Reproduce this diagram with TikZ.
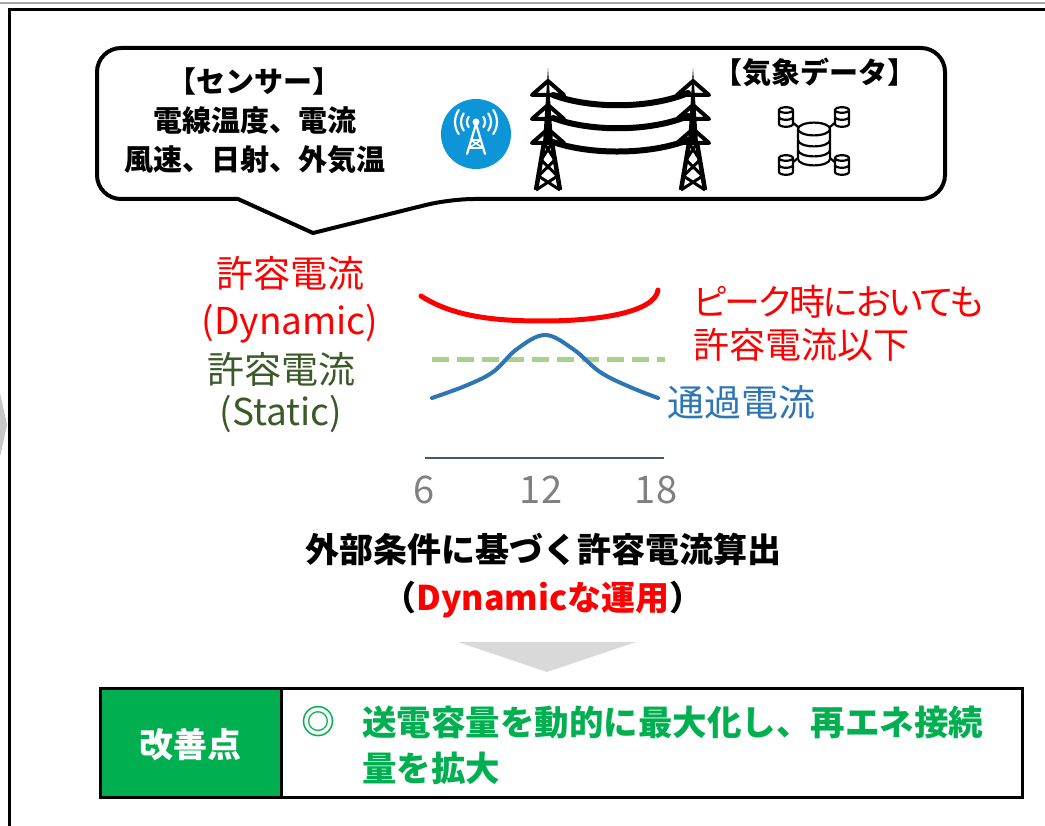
\documentclass[tikz,border=0pt]{standalone}
\usepackage{fontspec}
\setmainfont{Noto Sans CJK JP}
\newfontfamily\kanaprop[CharacterWidth=AlternateProportional]{Noto Sans CJK JP}
\newfontfamily\kanatight[CharacterWidth=AlternateProportional,LetterSpace=-5]{Noto Sans CJK JP}
\definecolor{dynred}{HTML}{FF0000}
\definecolor{staticgreen}{HTML}{3B5A27}
\definecolor{dashgreen}{HTML}{A9D18E}
\definecolor{flowblue}{HTML}{2E75B6}
\definecolor{axisslate}{HTML}{44546A}
\definecolor{tickgray}{HTML}{808080}
\definecolor{antblue}{HTML}{0E95D8}
\definecolor{okgreen}{HTML}{00B050}
\definecolor{arrowgray}{HTML}{D9D9D9}

% one drum of the database icon: centre x, top y, half width, height
\newcommand{\drum}[4]{%
  \draw[fill=white] (#1-#3,#2) -- (#1-#3,#2+#4)
    arc[start angle=180,end angle=0,x radius=#3,y radius=#3*0.4] -- (#1+#3,#2);
  \draw[fill=white] (#1,#2) ellipse[x radius=#3,y radius=#3*0.4];
}

\tikzset{
  jpbold/.style 2 args={font=\bfseries\fontsize{#1}{#2}\selectfont},
  jpplain/.style 2 args={font=\fontsize{#1}{#2}\selectfont},
  wire/.style={line width=6pt,line cap=round},
  pylon/.pic={
    % mast above the lowest arm
    \fill (0,-122) -- (-5,-47) -- (5,-47) -- cycle;
    % three cross arms
    \foreach \lv in {-95,-71,-47}
      \draw[line width=4pt,line join=round] (-16,\lv) -- (16,\lv) -- (0,\lv-14) -- cycle;
    % legs and bracing
    \draw[line width=4.5pt] (-4,-47) -- (-12,0) (4,-47) -- (12,0);
    \draw[line width=3pt] (-4,-47) -- (6.9,-30) -- (-9.6,-14) -- (12,0)
                          (4,-47) -- (-6.9,-30) -- (9.6,-14) -- (-12,0);
  }
}

\begin{document}
\begin{tikzpicture}[x=1pt,y=-1pt]
  \useasboundingbox (0,0) rectangle (1045,826);

  % frame
  \draw[gray!70,line width=1.5pt] (0,3) -- (1045,3);
  \draw[line width=3.5pt] (1045,9.5) -- (9.5,9.5) -- (9.5,826);
  \fill[black!22] (0,393) -- (7,425) -- (0,457) -- cycle;

  % speech bubble
  \draw[line width=4pt,line join=round,fill=white]
    (238,199) [rounded corners=24] -- (97,199) -- (97,48) -- (945,48) -- (945,199) -- (450,199)
    [sharp corners] -- (313,233) -- cycle;

  \node[jpbold={29}{39},align=center,inner sep=0] (sensor) at (255,121)
    {【センサー】\\電線温度、電流\\風速、日射、外気温};
  \node[jpbold={29}{39},inner sep=0] (weather) at (815,72) {【気象データ】};

  % antenna badge
  \fill[antblue] (476,134) circle[radius=35];
  \begin{scope}[white,line width=2.2pt,line cap=round]
    \fill (476,122) circle[radius=3.5];
    \draw (476,124) -- (467,154) (476,124) -- (485,154);
    \draw (471,140) -- (481,140) (469,148) -- (483,148);
    \draw[line width=1.6pt] (471,140) -- (483,148) (481,140) -- (469,148);
    \foreach \r in {9,15,21} {
      \draw (476,122) ++(145:\r) arc[start angle=145,end angle=215,radius=\r];
      \draw (476,122) ++(-35:\r) arc[start angle=-35,end angle=35,radius=\r];
    }
  \end{scope}

  % transmission towers and lines
  \pic at (548,190) {pylon};
  \pic at (693,190) {pylon};
  \draw[wire] (553,95) .. controls (590,109) and (650,109) .. (688,93);
  \draw[wire] (553,118) .. controls (590,132) and (650,132) .. (688,116);
  \draw[wire] (553,142) .. controls (590,155) and (650,155) .. (688,140);

  % database icon
  \begin{scope}[line width=2.2pt]
    \draw (792,122) -- (803,131) (836,122) -- (825,131)
          (792,163) -- (803,154) (836,163) -- (825,154);
    \drum{814}{129}{16}{30}
    \draw (798,140) arc[start angle=180,end angle=0,x radius=16,y radius=6.4];
    \draw (798,150) arc[start angle=180,end angle=0,x radius=16,y radius=6.4];
    \foreach \dx/\dy in {786/110,842/110,786/158,842/158} {
      \drum{\dx}{\dy}{7}{14}
      \draw (\dx-7,\dy+7) arc[start angle=180,end angle=0,x radius=7,y radius=2.8];
    }
  \end{scope}

  % allowable current labels
  \node[jpplain={37}{47},text=dynred,align=center,inner sep=0] (dyn) at (290,300)
    {許容電流\\(Dynamic)};
  \node[jpplain={37}{42},text=staticgreen,align=center,inner sep=0] (stat) at (281,393)
    {許容電流\\(Static)};
  \node[text=dynred,align=left,anchor=west,inner sep=0,
        font=\kanaprop\fontsize{36}{43}\selectfont] (peak) at (693,323)
    {{\kanatight ピーク時においても}\\許容電流以下};
  \node[jpplain={37}{43},text=flowblue,anchor=west,inner sep=0] (flow) at (667,402) {通過電流};

  % daily curves
  \draw[dynred,line width=5pt,line cap=round]
    (421,296) .. controls (455,318) and (500,321) .. (543,321)
    .. controls (600,321) and (655,312) .. (658,290);
  \draw[dashgreen,line width=5pt,dash pattern=on 17pt off 8pt] (432,360) -- (665,360);
  \draw[flowblue,line width=4pt,line cap=round] plot[smooth,tension=0.6] coordinates
    {(432,398) (465,386) (493,372) (517,349) (545,335) (573,349) (600,372) (630,387) (658,398)};
  \draw[axisslate,line width=2.5pt] (425,458) -- (664,458);
  \foreach \tx/\tl in {424/6,541/12,656/18}
    \node[jpplain={38}{43},text=tickgray,inner sep=0] (tick\tl) at (\tx,490) {\tl};

  % outcome
  \node[jpbold={34}{48},align=center,inner sep=0] (calc) at (543,576)
    {外部条件に基づく許容電流算出\\（{\color{dynred}Dynamicな運用}）};
  \fill[arrowgray] (458,642) -- (636,642) -- (547,672) -- cycle;

  % improvement box
  \fill[okgreen] (100,688) rectangle (281,797);
  \draw[line width=3pt] (100,688) rectangle (1022,797) (281,688) -- (281,797);
  \node[jpbold={34}{40},text=white,inner sep=0] (kaizen) at (190,745) {改善点};
  \node[jpbold={34}{46},text=okgreen,inner sep=0] (mark) at (318,722) {◎};
  \node[jpbold={34.5}{46},text=okgreen,align=left,anchor=west,inner sep=0] (gain) at (362,745)
    {送電容量を動的に最大化し、再エネ接続\\量を拡大};
\end{tikzpicture}
\end{document}
